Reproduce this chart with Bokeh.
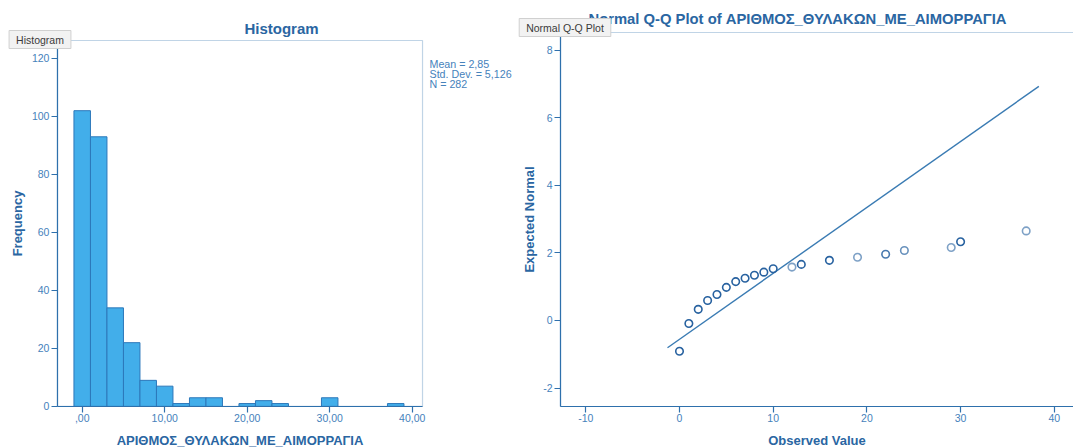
from bokeh.plotting import figure
from bokeh.layouts import row
from bokeh.models import Range1d, FixedTicker, Label, BoxAnnotation, ColumnDataSource
from bokeh.embed import file_html
from bokeh.resources import INLINE

# ---- histogram data ----
var_name = "ΑΡΙΘΜΟΣ_ΘΥΛΑΚΩΝ_ΜΕ_ΑΙΜΟΡΡΑΓΙΑ"
bin_start = -1.0
bin_width = 2.0
bin_counts = [102, 93, 34, 22, 9, 7, 1, 3, 3, 0, 1, 2, 1, 0, 0, 3, 0, 0, 0, 1]
stat_mean = 2.85
stat_sd = 5.126
stat_n = 282
hist_x_ticks = [0, 10, 20, 30, 40]
hist_x_tick_labels = [",00", "10,00", "20,00", "30,00", "40,00"]
hist_y_ticks = [0, 20, 40, 60, 80, 100, 120]

# ---- normal Q-Q data ----
qq_observed = [0, 1, 2, 3, 4, 5, 6, 7, 8, 9, 10, 12, 13, 16, 19, 22, 24, 29, 30, 37]
qq_expected = [-0.91, -0.09, 0.33, 0.59, 0.77, 0.98, 1.15, 1.25, 1.34, 1.43, 1.53,
               1.58, 1.66, 1.78, 1.87, 1.96, 2.07, 2.16, 2.33, 2.65]
qq_line_x = [-1.28, 38.35]
qq_x_ticks = [-10, 0, 10, 20, 30, 40]
qq_x_tick_labels = ["-10", "0", "10", "20", "30", "40"]
qq_y_ticks = [-2, 0, 2, 4, 6, 8]
qq_y_tick_labels = ["-2", "0", "2", "4", "6", "8"]

# point shading: values seen only once are drawn lighter
qq_point_alpha = [1, 1, 1, 1, 1, 1, 1, 1, 1, 1, 1, 0.6, 1, 1, 0.6, 0.85, 0.7, 0.6, 1, 0.6]

FONT = "Liberation Sans"
AXIS_C = "#2F70AC"
TICK_C = "#4682BB"
TITLE_C = "#2A66A2"
BAR_FILL = "#42AEEA"
BAR_LINE = "#2C78BA"
POINT_C = "#2862A0"

H_W, Q_W, H = 516, 557, 448


def comma(v, digits):
    return f"{v:.{digits}f}".replace(".", ",")


def style_axis(ax, ticks, labels, bounds, location, standoff):
    ax.ticker = FixedTicker(ticks=ticks)
    ax.major_label_overrides = dict(zip(ticks, labels))
    ax.bounds = bounds
    ax.fixed_location = location
    ax.axis_line_color = AXIS_C
    ax.axis_line_width = 1.2
    ax.major_tick_line_color = AXIS_C
    ax.major_tick_line_width = 1.2
    ax.major_tick_out = 6
    ax.major_tick_in = 0
    ax.minor_tick_line_color = None
    ax.major_label_text_color = TICK_C
    ax.major_label_text_font = FONT
    ax.major_label_text_font_size = "10.5px"
    ax.major_label_standoff = 2
    ax.axis_label_text_color = TITLE_C
    ax.axis_label_text_font = FONT
    ax.axis_label_text_font_size = "13px"
    ax.axis_label_text_font_style = "bold"
    ax.axis_label_standoff = standoff


def make_panel(width, xr, yr):
    p = figure(width=width, height=H, x_range=Range1d(*xr), y_range=Range1d(*yr),
               output_backend="svg", toolbar_location=None,
               min_border_left=0, min_border_right=0, min_border_top=0, min_border_bottom=0)
    p.title.visible = False
    p.xgrid.visible = False
    p.ygrid.visible = False
    p.outline_line_color = None
    return p


def pixel_mapper(p, width, left):
    # canvas pixel position -> data coordinates of a panel whose frame fills it
    x0, x1 = p.x_range.start, p.x_range.end
    y0, y1 = p.y_range.start, p.y_range.end

    def f(px, py):
        return x0 + (px - left) / width * (x1 - x0), y1 - py / H * (y1 - y0)
    return f


def tooltip_box(p, text, x, y):
    pad = dict(left=7, right=7, top=3, bottom=3)
    shadow = Label(x=x, y=y, x_offset=2, y_offset=-2, text=text, text_align="center",
                   text_baseline="middle", text_font=FONT, text_font_size="10.5px",
                   text_alpha=0, background_fill_color="#000000", background_fill_alpha=0.10,
                   padding=pad)
    box = Label(x=x, y=y, text=text, text_align="center", text_baseline="middle",
                text_font=FONT, text_font_size="10.5px", text_color="#3A3A3A",
                background_fill_color="#F2F2F2", border_line_color="#D0D0D0", padding=pad)
    p.add_layout(shadow)
    p.add_layout(box)


# ---------------- Histogram ----------------
p1 = make_panel(H_W, (-9.903, 52.64), (-14.5, 140.0))
h_box = (-3.0, 41.25, 0.0, 126.2)

lefts, rights, tops = [], [], []
for i, c in enumerate(bin_counts):
    if c > 0:
        lefts.append(bin_start + i * bin_width)
        rights.append(bin_start + (i + 1) * bin_width)
        tops.append(c)
bars = ColumnDataSource(dict(left=lefts, right=rights, top=tops, bottom=[0] * len(tops)))
p1.quad(left="left", right="right", top="top", bottom="bottom", source=bars,
        fill_color=BAR_FILL, line_color=BAR_LINE, line_width=1)
p1.add_layout(BoxAnnotation(left=h_box[0], right=h_box[1], bottom=h_box[2], top=h_box[3],
                            fill_color=None, line_color=AXIS_C, line_width=1.2))

p1.xaxis.axis_label = var_name
p1.yaxis.axis_label = "Frequency"
style_axis(p1.xaxis[0], hist_x_ticks, hist_x_tick_labels, (h_box[0], h_box[1]), h_box[2], 7)
style_axis(p1.yaxis[0], hist_y_ticks, [str(t) for t in hist_y_ticks],
           (h_box[2], h_box[3]), h_box[0], 4)

h_pt = pixel_mapper(p1, H_W, 0)
tx, ty = h_pt(281, 28)
p1.add_layout(Label(x=tx, y=ty, text="Histogram", text_align="center", text_baseline="middle",
                    text_font=FONT, text_font_size="15px", text_font_style="bold",
                    text_color=TITLE_C))
stat_lines = [f"Mean = {comma(stat_mean, 2)}", f"Std. Dev. = {comma(stat_sd, 3)}", f"N = {stat_n}"]
for k, line in enumerate(stat_lines):
    sx, sy = h_pt(429, 63.5 + 10 * k)
    p1.add_layout(Label(x=sx, y=sy, text=line, text_align="left", text_baseline="middle",
                        text_font=FONT, text_font_size="10.7px", text_color=TICK_C))
bx, by = h_pt(39.5, 39)
tooltip_box(p1, "Histogram", bx, by)

# ---------------- Normal Q-Q plot ----------------
p2 = make_panel(Q_W, (-17.396, 42.049), (-3.787, 9.467))
q_box = (-12.7, 60.0, -2.544, 8.52)
p2.add_layout(BoxAnnotation(left=q_box[0], right=q_box[1], bottom=q_box[2], top=q_box[3],
                            fill_color=None, line_color=AXIS_C, line_width=1.2))

line_y = [(x - stat_mean) / stat_sd for x in qq_line_x]
p2.line(qq_line_x, line_y, line_color="#3A7BB3", line_width=1.4)

pts = ColumnDataSource(dict(x=qq_observed, y=qq_expected, a=qq_point_alpha))
p2.scatter("x", "y", source=pts, marker="circle", size=7.5, fill_color=None,
           line_color=POINT_C, line_alpha="a", line_width=1.6)

p2.xaxis.axis_label = "Observed Value"
p2.yaxis.axis_label = "Expected Normal"
style_axis(p2.xaxis[0], qq_x_ticks, qq_x_tick_labels, (q_box[0], p2.x_range.end), q_box[2], 7)
style_axis(p2.yaxis[0], qq_y_ticks, qq_y_tick_labels, (q_box[2], q_box[3]), q_box[0], 3)

q_pt = pixel_mapper(p2, Q_W, H_W)
tx, ty = q_pt(797, 18)
p2.add_layout(Label(x=tx, y=ty, text=f"Normal Q-Q Plot of {var_name}", text_align="center",
                    text_baseline="middle", text_font=FONT, text_font_size="14.8px",
                    text_font_style="bold", text_color=TITLE_C))
bx, by = q_pt(564.5, 27)
tooltip_box(p2, "Normal Q-Q Plot", bx, by)

layout = row(p1, p2)
open("out.html", "w").write(file_html(layout, INLINE))
